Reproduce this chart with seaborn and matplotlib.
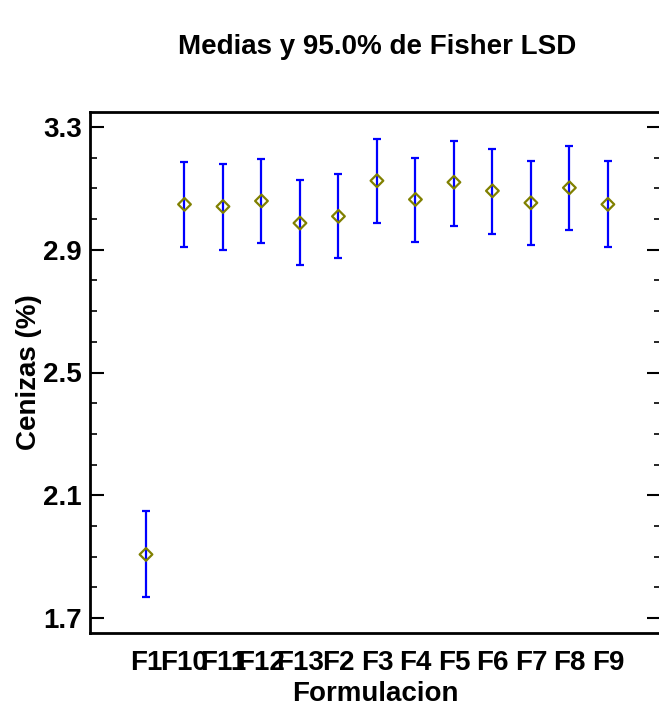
import matplotlib
matplotlib.use("Agg")
import matplotlib.pyplot as plt
import seaborn as sns
import pandas as pd
import numpy as np
from matplotlib.ticker import MultipleLocator

sns.set_theme(style="white")
plt.rcParams['font.family'] = ['Liberation Sans', 'DejaVu Sans']
plt.rcParams['text.color'] = 'black'
plt.rcParams['axes.labelcolor'] = 'black'
plt.rcParams['xtick.color'] = 'black'
plt.rcParams['ytick.color'] = 'black'

categories = ["F1", "F10", "F11", "F12", "F13", "F2", "F3", "F4", "F5", "F6", "F7", "F8", "F9"]
means = [1.907, 3.048, 3.041, 3.059, 2.987, 3.009, 3.125, 3.064, 3.120, 3.092, 3.053, 3.102, 3.048]
lower = [1.769, 2.910, 2.899, 2.921, 2.850, 2.872, 2.987, 2.926, 2.976, 2.953, 2.915, 2.965, 2.910]
upper = [2.049, 3.185, 3.179, 3.196, 3.129, 3.147, 3.261, 3.200, 3.255, 3.228, 3.189, 3.239, 3.189]
yticks = [1.7, 2.1, 2.5, 2.9, 3.3]

df = pd.DataFrame({"Formulacion": categories, "media": means, "lo": lower, "hi": upper})
df["pos"] = np.arange(len(df))

fig = plt.figure(figsize=(6.59, 7.08), dpi=100)
ax = fig.add_axes([90/659, 75/708, 571/659, 521/708])

ax.errorbar(df["pos"], df["media"],
            yerr=[df["media"] - df["lo"], df["hi"] - df["media"]],
            fmt="none", ecolor="#0000FF", elinewidth=1.6, capsize=3, capthick=1.6, zorder=2)
sns.scatterplot(data=df, x="pos", y="media", ax=ax, marker="D", s=42,
                facecolor="none", edgecolor="#808000", linewidth=1.6, zorder=3)

ax.set_xlim(-1.455, 13.38)
ax.set_ylim(1.651, 3.349)
ax.set_xticks(df["pos"])
ax.set_xticklabels(categories, fontsize=20, fontweight="bold")
ax.set_yticks(yticks)
ax.set_yticklabels([f"{v:.1f}" for v in yticks], fontsize=20, fontweight="bold")
ax.yaxis.set_minor_locator(MultipleLocator(0.1))
ax.tick_params(axis="x", length=0, pad=12)
ax.tick_params(axis="y", which="major", direction="in", length=10, width=1.5, right=True, left=True, pad=6)
ax.tick_params(axis="y", which="minor", direction="in", length=5, width=1.2, right=True, left=True)

for sp in ax.spines.values():
    sp.set_color("black")
    sp.set_linewidth(2)

ax.set_xlabel("Formulacion", fontsize=20, fontweight="bold", labelpad=4)
ax.set_ylabel("Cenizas (%)", fontsize=20, fontweight="bold", labelpad=1)
fig.text(377/659, 1 - 47/708, "Medias y 95.0% de Fisher LSD", ha="center", va="center",
         fontsize=20, fontweight="bold")

fig.savefig("out.png", dpi=100)
